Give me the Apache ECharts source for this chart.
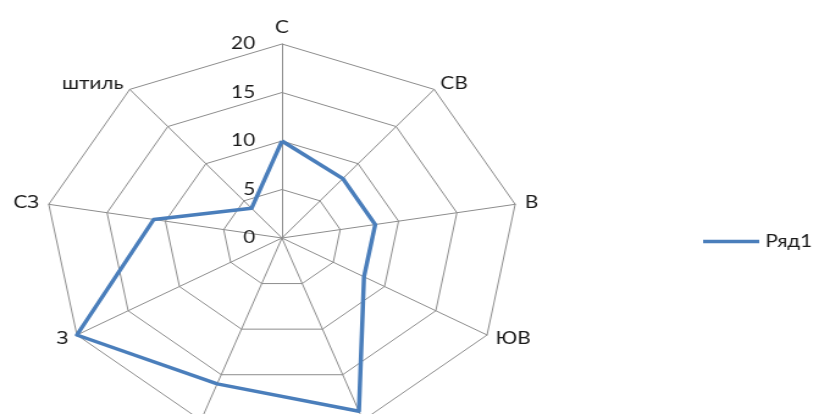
<!DOCTYPE html>
<html>
<head>
<meta charset="utf-8">
<script src="https://cdn.jsdelivr.net/npm/echarts@6/dist/echarts.min.js"></script>
<style>
  html, body { margin: 0; padding: 0; background: #fff; overflow: hidden; }
  #wrap { width: 819px; height: 414px; overflow: hidden; }
  /* the source picture is stretched horizontally, so the chart is too */
  #chart { width: 671px; height: 414px; transform: scaleX(1.2206); transform-origin: 0 0; }
</style>
</head>
<body>
<div id="wrap"><div id="chart"></div></div>
<script>
// directions, clockwise from north
const directions = ["С", "СВ", "В", "ЮВ", "Ю", "ЮЗ", "З", "СЗ", "штиль"];
const values = [10, 8, 8, 8, 19, 16, 20, 11, 4];
const seriesName = "Ряд1";
const axisMax = 20;

// echarts radar goes counter-clockwise, so keep the first and reverse the rest
const order = [0].concat(directions.map((d, i) => i).slice(1).reverse());

const chart = echarts.init(document.getElementById("chart"));

const option = {
  animation: false,
  textStyle: { fontFamily: "Lato" },
  legend: {
    data: [{ name: seriesName, icon: "rect" }],
    left: 571,
    top: 228,
    itemWidth: 46,
    itemHeight: 3.5,
    textStyle: { fontSize: 17, color: "#1a1a1a", fontFamily: "Lato" },
  },
  radar: {
    center: [231, 238],
    radius: 194,
    startAngle: 90,
    splitNumber: 4,
    shape: "polygon",
    axisName: { color: "#1a1a1a", fontSize: 17, fontFamily: "Lato" },
    nameGap: 8,
    axisLine: { lineStyle: { color: "#8c8c8c", width: 1 } },
    splitLine: { lineStyle: { color: "#8c8c8c", width: 1 } },
    splitArea: { show: false },
    axisTick: { show: false },
    axisLabel: { show: false },
    indicator: order.map((i, k) => ({
      name: directions[i],
      min: 0,
      max: axisMax,
      nameMoveOverlap: false,
      axisLabel:
        k === 0
          ? { show: true, color: "#1a1a1a", fontSize: 17, margin: 22, fontFamily: "Lato" }
          : { show: false },
    })),
  },
  series: [
    {
      name: seriesName,
      type: "radar",
      symbol: "none",
      lineStyle: { color: "#4a7ebb", width: 3.5 },
      itemStyle: { color: "#4a7ebb" },
      data: [{ name: seriesName, value: order.map((i) => values[i]) }],
    },
  ],
};

chart.setOption(option);
</script>
</body>
</html>
